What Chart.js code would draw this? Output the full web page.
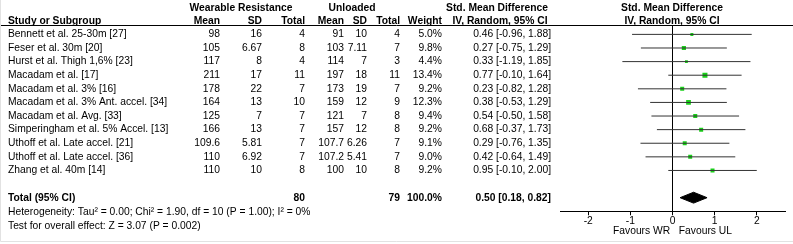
<!DOCTYPE html>
<html>
<head>
<meta charset="utf-8">
<script src="https://cdn.jsdelivr.net/npm/chart.js@4"></script>
<style>
  body { margin: 0; background: #fff; }
  canvas { display: block; }
</style>
</head>
<body>
<canvas id="forest" width="793" height="244"></canvas>
<script>
// study data
const studies = [
  "Bennett et al. 25-30m [27]",
  "Feser et al. 30m [20]",
  "Hurst et al. Thigh 1,6% [23]",
  "Macadam et al. [17]",
  "Macadam et al. 3% [16]",
  "Macadam et al. 3% Ant. accel. [34]",
  "Macadam et al. Avg. [33]",
  "Simperingham et al. 5% Accel. [13]",
  "Uthoff et al. Late accel. [21]",
  "Uthoff et al. Late accel. [36]",
  "Zhang et al. 40m [14]"
];
const wrMean = [98, 105, 117, 211, 178, 164, 125, 166, 109.6, 110, 110];
const wrSD = [16, 6.67, 8, 17, 22, 13, 7, 13, 5.81, 6.92, 10];
const wrTotal = [4, 8, 4, 11, 7, 10, 7, 7, 7, 7, 8];
const ulMean = [91, 103, 114, 197, 173, 159, 121, 157, 107.7, 107.2, 100];
const ulSD = [10, 7.11, 7, 18, 19, 12, 7, 12, 6.26, 5.41, 10];
const ulTotal = [4, 7, 3, 11, 7, 9, 8, 8, 7, 7, 8];
const weights = [5.0, 9.8, 4.4, 13.4, 9.2, 12.3, 9.4, 9.2, 9.1, 9.0, 9.2];
const smd = [0.46, 0.27, 0.33, 0.77, 0.23, 0.38, 0.54, 0.68, 0.29, 0.42, 0.95];
const ciLow = [-0.96, -0.75, -1.19, -0.10, -0.82, -0.53, -0.50, -0.37, -0.76, -0.64, -0.10];
const ciHigh = [1.88, 1.29, 1.85, 1.64, 1.28, 1.29, 1.58, 1.73, 1.35, 1.49, 2.00];

// pooled result
const totalWR = 80;
const totalUL = 79;
const totalWeight = 100.0;
const pooled = [0.50, 0.18, 0.82]; // estimate, low, high
const xTicks = [-2, -1, 0, 1, 2];
const axisLabel = "Favours WR   Favours UL";
const hetText = "Heterogeneity: Tau\u00b2 = 0.00; Chi\u00b2 = 1.90, df = 10 (P = 1.00); I\u00b2 = 0%";
const testText = "Test for overall effect: Z = 3.07 (P = 0.002)";

const TOTAL_ROW = 12;
const FONT = '"Liberation Sans", Arial, sans-serif';
const FS = 10.3;
Chart.defaults.font.family = FONT;
Chart.defaults.font.size = FS;
Chart.defaults.color = "#000";

const ci = (m, l, h) => m.toFixed(2) + " [" + l.toFixed(2) + ", " + h.toFixed(2) + "]";

// one line dataset per confidence interval
const ciSets = studies.map((s, i) => ({
  type: "line",
  data: [{ x: ciLow[i], y: i }, { x: ciHigh[i], y: i }],
  borderColor: "#333",
  borderWidth: 1,
  pointRadius: 0
}));

const squares = {
  type: "scatter",
  data: smd.map((v, i) => ({ x: v, y: i })),
  pointStyle: "rect",
  pointRadius: ctx => (1.8 + 0.24 * weights[ctx.dataIndex]) / Math.SQRT2,
  backgroundColor: "#19d119",
  borderWidth: 0
};

const dh = 0.4;
const diamondTop = {
  type: "line",
  data: [{ x: pooled[1], y: TOTAL_ROW }, { x: pooled[0], y: TOTAL_ROW - dh }, { x: pooled[2], y: TOTAL_ROW }],
  borderColor: "#000",
  backgroundColor: "#000",
  borderWidth: 1,
  pointRadius: 0,
  fill: "+1"
};
const diamondBottom = {
  type: "line",
  data: [{ x: pooled[1], y: TOTAL_ROW }, { x: pooled[0], y: TOTAL_ROW + dh }, { x: pooled[2], y: TOTAL_ROW }],
  borderColor: "#000",
  borderWidth: 1,
  pointRadius: 0,
  fill: false
};

// table text, header rule, frame
const tablePlugin = {
  id: "table",
  afterDraw(chart) {
    const ctx = chart.ctx;
    const y = chart.scales.y;
    ctx.save();
    ctx.fillStyle = "#000";
    ctx.textBaseline = "middle";

    const put = (txt, x, yy, align, bold) => {
      ctx.font = (bold ? "bold " : "") + FS + "px " + FONT;
      ctx.textAlign = align;
      ctx.fillText(txt, x, yy);
    };

    // headers
    put("Wearable Resistance", 241, 8, "center", true);
    put("Unloaded", 352, 8, "center", true);
    put("Std. Mean Difference", 497, 8, "center", true);
    put("Std. Mean Difference", 672, 8, "center", true);
    put("Study or Subgroup", 8, 21, "left", true);
    put("Mean", 220, 21, "right", true);
    put("SD", 262, 21, "right", true);
    put("Total", 305, 21, "right", true);
    put("Mean", 344, 21, "right", true);
    put("SD", 367, 21, "right", true);
    put("Total", 400, 21, "right", true);
    put("Weight", 442, 21, "right", true);
    put("IV, Random, 95% CI", 500, 21, "center", true);
    put("IV, Random, 95% CI", 672, 21, "center", true);

    // rows
    studies.forEach((s, i) => {
      const py = y.getPixelForValue(i);
      put(s, 8, py, "left");
      put(String(wrMean[i]), 220, py, "right");
      put(String(wrSD[i]), 262, py, "right");
      put(String(wrTotal[i]), 305, py, "right");
      put(String(ulMean[i]), 344, py, "right");
      put(String(ulSD[i]), 367, py, "right");
      put(String(ulTotal[i]), 400, py, "right");
      put(weights[i].toFixed(1) + "%", 442, py, "right");
      put(ci(smd[i], ciLow[i], ciHigh[i]), 551, py, "right");
    });

    const ty = y.getPixelForValue(TOTAL_ROW);
    put("Total (95% CI)", 8, ty, "left", true);
    put(String(totalWR), 305, ty, "right", true);
    put(String(totalUL), 400, ty, "right", true);
    put(totalWeight.toFixed(1) + "%", 442, ty, "right", true);
    put(ci(pooled[0], pooled[1], pooled[2]), 551, ty, "right", true);

    put(hetText, 8, 212, "left");
    put(testText, 8, 226, "left");

    // header rule
    ctx.strokeStyle = "#000";
    ctx.lineWidth = 1;
    ctx.beginPath();
    ctx.moveTo(0, 25.5);
    ctx.lineTo(793, 25.5);
    ctx.stroke();

    // faint frame
    ctx.strokeStyle = "#e2e2e2";
    ctx.beginPath();
    ctx.moveTo(0.5, 0);
    ctx.lineTo(0.5, 241.5);
    ctx.lineTo(793, 241.5);
    ctx.stroke();
    ctx.restore();
  }
};

new Chart(document.getElementById("forest"), {
  type: "scatter",
  data: { datasets: [...ciSets, squares, diamondTop, diamondBottom] },
  options: {
    responsive: false,
    animation: false,
    devicePixelRatio: 1,
    layout: { padding: { left: 560, right: 8, top: 25, bottom: 7 } },
    plugins: { legend: { display: false }, tooltip: { enabled: false } },
    scales: {
      x: {
        type: "linear",
        min: -2.67,
        max: 2.67,
        afterBuildTicks: s => { s.ticks = xTicks.map(v => ({ value: v })); },
        ticks: { padding: 0, callback: v => String(v) },
        grid: {
          color: c => (c.tick && c.tick.value === 0 ? "#000" : "rgba(0,0,0,0)"),
          tickColor: "#000",
          tickLength: 4
        },
        border: { color: "#000", width: 1 },
        title: { display: true, text: axisLabel, padding: { top: -3, bottom: 0 } }
      },
      y: {
        type: "linear",
        display: false,
        reverse: true,
        min: -0.69,
        max: 13
      }
    }
  },
  plugins: [tablePlugin]
});
</script>
</body>
</html>
